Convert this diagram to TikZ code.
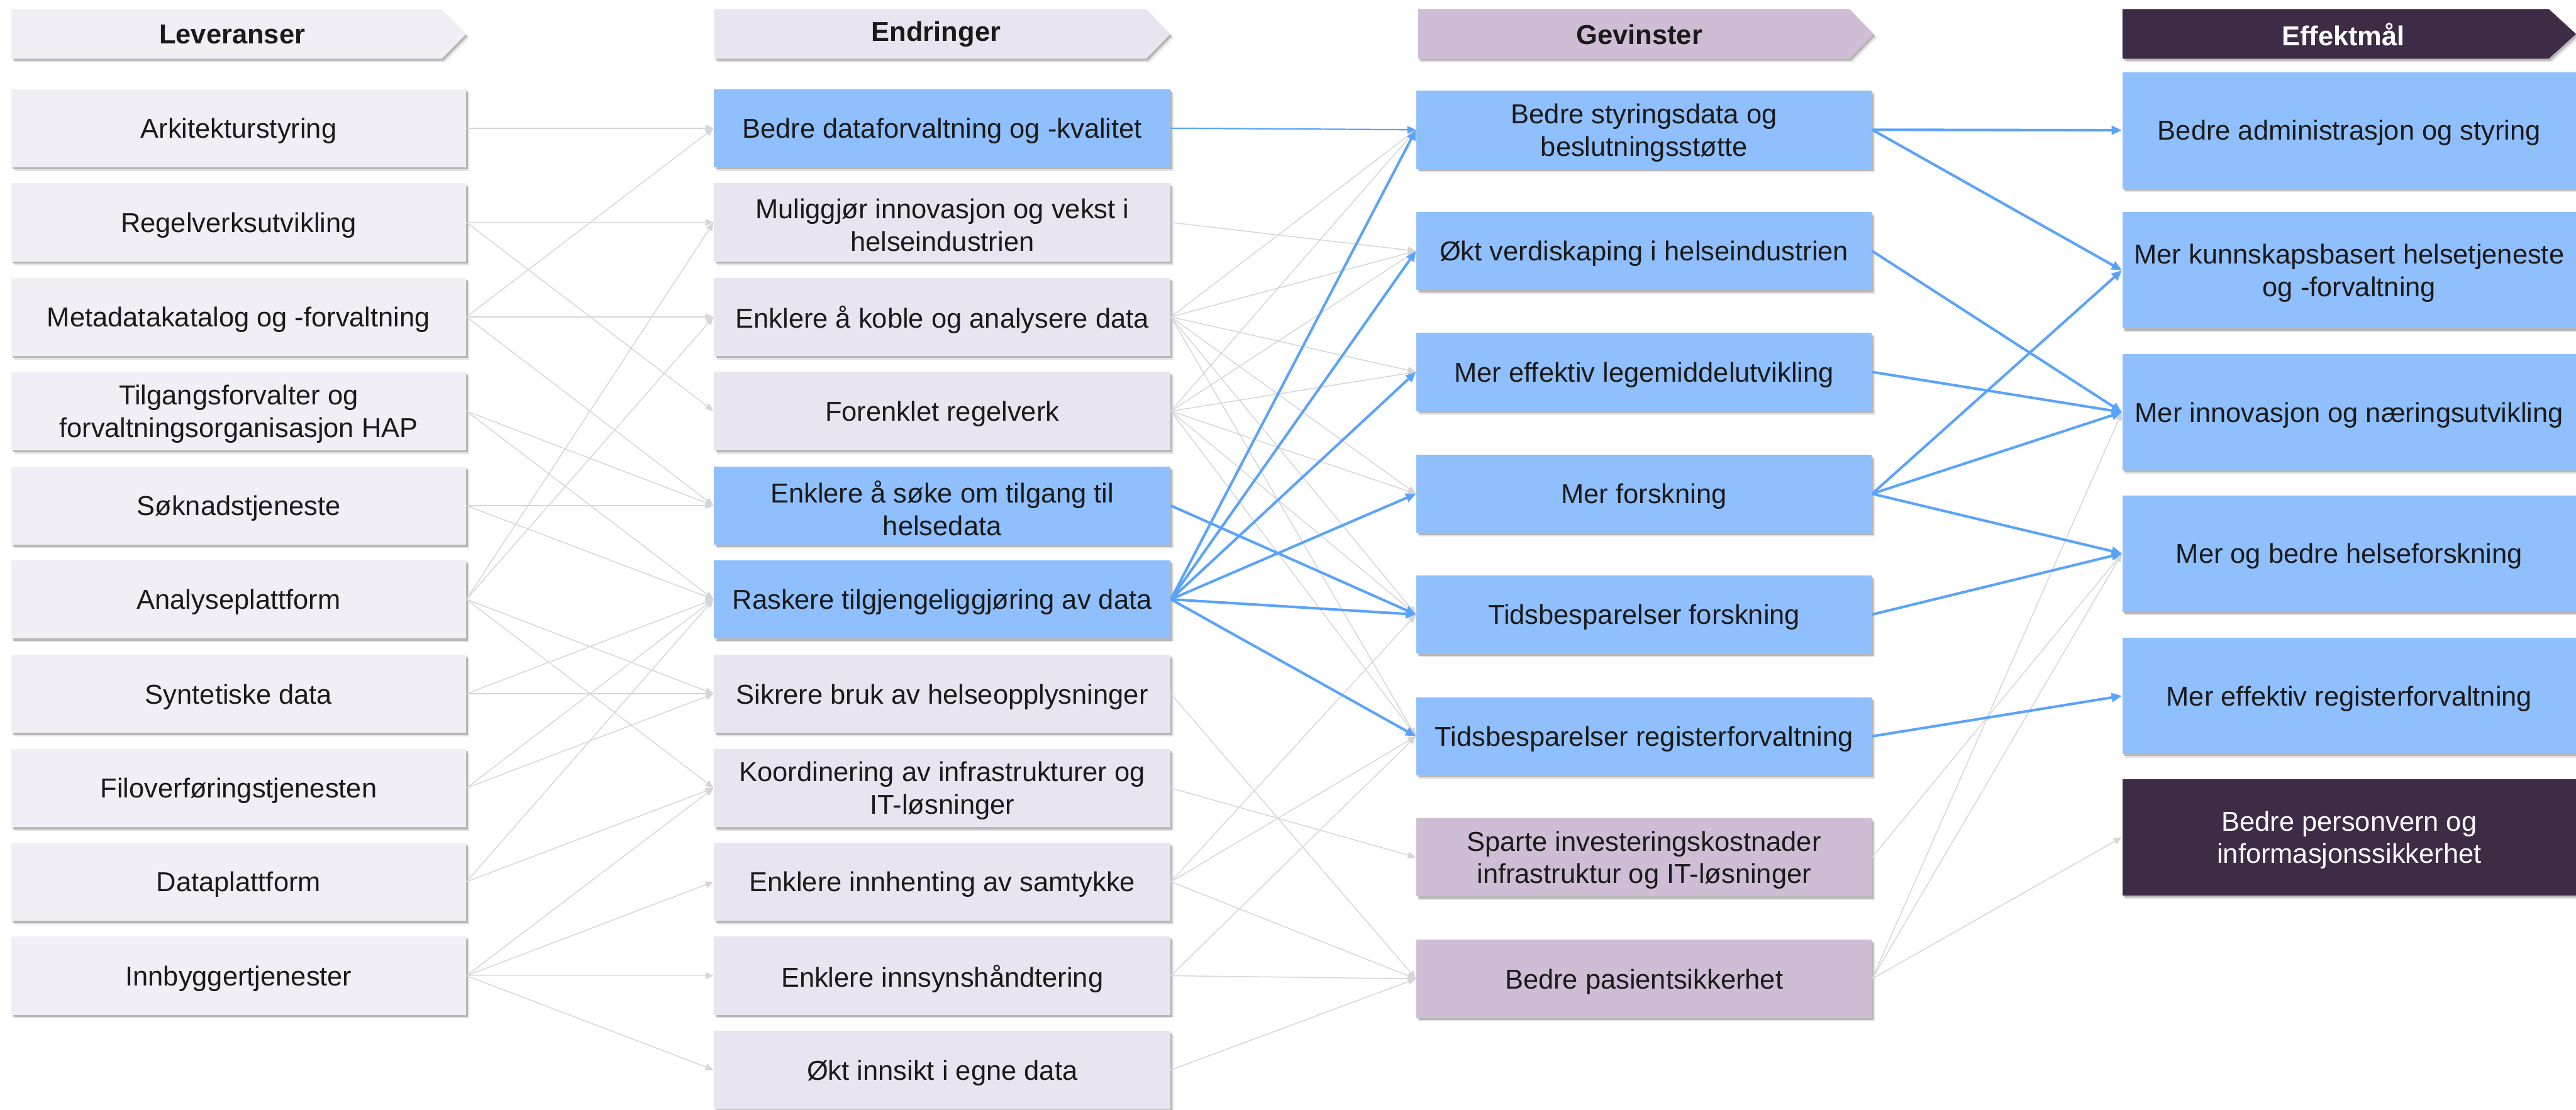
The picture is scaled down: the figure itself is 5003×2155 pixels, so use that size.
\documentclass[tikz,border=0pt]{standalone}
\usepackage{fontspec}
\setmainfont{Liberation Sans}
\usetikzlibrary{arrows.meta,shadows}

\definecolor{levfill}{HTML}{F2EEF5}
\definecolor{endfill}{HTML}{EAE4F0}
\definecolor{hitfill}{HTML}{8FBFFD}
\definecolor{gevfill}{HTML}{CFBDD6}
\definecolor{effill}{HTML}{3E2C47}
\definecolor{txtcol}{HTML}{1A1A1A}
\definecolor{linegrey}{HTML}{D6D6D6}
\definecolor{lineblue}{HTML}{5AA3FC}

% box node (named) with its caption set slightly below the geometric centre
\newcommand\bx[4]{%
  \node[#1] (#2) at (#3) {};
  \node[boxtxt, #1txt] at ([yshift=-1.6pt]#2.center) {#4};}

\begin{document}
\begin{tikzpicture}[x=0.01cm,y=-0.01cm,
  boxshadow/.style={
    drop shadow={shadow xshift=0.03cm,shadow yshift=-0.04cm,opacity=0.35,fill=black!60},
    drop shadow={shadow xshift=0.06cm,shadow yshift=-0.07cm,opacity=0.18,fill=black!60}},
  boxbase/.style={rectangle, inner sep=0pt, boxshadow},
  boxtxt/.style={inner sep=0pt, align=center, text=txtcol,
    font=\fontsize{15.1}{18}\selectfont},
  lbox/.style={boxbase, fill=levfill, minimum width=8.83cm, minimum height=1.52cm},
  ebox/.style={boxbase, fill=endfill, minimum width=8.86cm, minimum height=1.52cm},
  ebhit/.style={ebox, fill=hitfill},
  gbox/.style={boxbase, fill=gevfill, minimum width=8.84cm, minimum height=1.52cm},
  gbhit/.style={gbox, fill=hitfill},
  fbox/.style={boxbase, fill=hitfill, minimum width=8.81cm, minimum height=2.26cm},
  fbdark/.style={fbox, fill=effill},
  lboxtxt/.style={}, eboxtxt/.style={}, ebhittxt/.style={},
  gboxtxt/.style={}, gbhittxt/.style={}, fboxtxt/.style={},
  fbdarktxt/.style={text=white},
  hdrtext/.style={inner sep=0pt, font=\fontsize{15.1}{18}\selectfont\bfseries, text=txtcol},
  greyarrow/.style={draw=linegrey, line width=0.018cm, -{Triangle[length=0.16cm,width=0.13cm]}},
  bluearrow/.style={draw=lineblue, line width=0.05cm, -{Triangle[length=0.2cm,width=0.17cm]}},
  bluethin/.style={draw=lineblue, line width=0.027cm, -{Triangle[length=0.17cm,width=0.14cm]}},
]
\useasboundingbox (0,0) rectangle (5003,2155);
\fill[white] (0,0) rectangle (5003,2155);

% ---- column headers (chevrons) ----
\fill[levfill, boxshadow] (22,17.5) -- (858,17.5) -- (905,66) -- (858,114) -- (22,114) -- cycle;
\fill[endfill, boxshadow] (1387,17.5) -- (2226,17.5) -- (2273,66) -- (2226,114) -- (1387,114) -- cycle;
\fill[gevfill, boxshadow] (2754,17.5) -- (3592,17.5) -- (3639,66) -- (3592,114) -- (2754,114) -- cycle;
\fill[effill, boxshadow] (4122,17.5) -- (4950,17.5) -- (5003,66) -- (4950,114) -- (4122,114) -- cycle;
\node[hdrtext] (hL) at (451,67) {Leveranser};
\node[hdrtext] (hE) at (1818,67) {Endringer};
\node[hdrtext] (hG) at (3184,67) {Gevinster};
\node[hdrtext, text=white] (hF) at (4551,67) {Effektmål};

% ---- Leveranser ----
\bx{lbox}{L1}{463.5,249}{Arkitekturstyring}
\bx{lbox}{L2}{463.5,432}{Regelverksutvikling}
\bx{lbox}{L3}{463.5,615.5}{Metadatakatalog og -forvaltning}
\bx{lbox}{L4}{463.5,798.5}{Tilgangsforvalter og\\forvaltningsorganisasjon HAP}
\bx{lbox}{L5}{463.5,982}{Søknadstjeneste}
\bx{lbox}{L6}{463.5,1164}{Analyseplattform}
\bx{lbox}{L7}{463.5,1347.5}{Syntetiske data}
\bx{lbox}{L8}{463.5,1530.5}{Filoverføringstjenesten}
\bx{lbox}{L9}{463.5,1712.5}{Dataplattform}
\bx{lbox}{L10}{463.5,1895}{Innbyggertjenester}

% ---- Endringer ----
\bx{ebhit}{E1}{1830,249}{Bedre dataforvaltning og -kvalitet}
\bx{ebox}{E2}{1830,432}{Muliggjør innovasjon og vekst i\\helseindustrien}
\bx{ebox}{E3}{1830,615.5}{Enklere å koble og analysere data}
\bx{ebox}{E4}{1830,798.5}{Forenklet regelverk}
\bx{ebhit}{E5}{1830,982}{Enklere å søke om tilgang til\\helsedata}
\bx{ebhit}{E6}{1830,1164}{Raskere tilgjengeliggjøring av data}
\bx{ebox}{E7}{1830,1347.5}{Sikrere bruk av helseopplysninger}
\bx{ebox}{E8}{1830,1530.5}{Koordinering av infrastrukturer og\\IT-løsninger}
\bx{ebox}{E9}{1830,1712.5}{Enklere innhenting av samtykke}
\bx{ebox}{E10}{1830,1895}{Enklere innsynshåndtering}
\bx{ebox}{E11}{1830,2078}{Økt innsikt i egne data}

% ---- Gevinster ----
\bx{gbhit}{G1}{3193,252}{Bedre styringsdata og\\beslutningsstøtte}
\bx{gbhit}{G2}{3193,487.5}{Økt verdiskaping i helseindustrien}
\bx{gbhit}{G3}{3193,722.5}{Mer effektiv legemiddelutvikling}
\bx{gbhit}{G4}{3193,959}{Mer forskning}
\bx{gbhit}{G5}{3193,1193.5}{Tidsbesparelser forskning}
\bx{gbhit}{G6}{3193,1430}{Tidsbesparelser registerforvaltning}
\bx{gbox}{G7}{3193,1665}{Sparte investeringskostnader\\infrastruktur og IT-løsninger}
\bx{gbox}{G8}{3193,1901}{Bedre pasientsikkerhet}

% ---- Effektmål ----
\bx{fbox}{F1}{4562.5,253}{Bedre administrasjon og styring}
\bx{fbox}{F2}{4562.5,525}{Mer kunnskapsbasert helsetjeneste\\og -forvaltning}
\bx{fbox}{F3}{4562.5,800.5}{Mer innovasjon og næringsutvikling}
\bx{fbox}{F4}{4562.5,1075}{Mer og bedre helseforskning}
\bx{fbox}{F5}{4562.5,1351.5}{Mer effektiv registerforvaltning}
\bx{fbdark}{F6}{4562.5,1626}{Bedre personvern og\\informasjonssikkerhet}

% ---- Leveranser -> Endringer ----
\foreach \a/\b in {1/1,2/2,2/4,3/1,3/3,3/5,4/5,4/6,5/5,5/6,6/2,6/3,6/7,6/8,
                   7/6,7/7,8/6,8/7,9/6,9/8,10/8,10/9,10/10,10/11}
  \draw[greyarrow] (L\a.east) -- (E\b.west);

% ---- Endringer -> Gevinster ----
\foreach \a/\b in {2/2,3/1,3/2,3/3,3/4,3/5,3/6,4/1,4/2,4/3,4/4,4/5,4/6,
                   7/8,8/7,9/5,9/6,9/8,10/6,10/8,11/8}
  \draw[greyarrow] (E\a.east) -- (G\b.west);

% ---- Gevinster -> Effektmål (grey) ----
\foreach \a/\b in {7/4,8/3,8/4,8/6}
  \draw[greyarrow] (G\a.east) -- (F\b.west);

% ---- highlighted chains ----
\draw[bluethin] (E1.east) -- (G1.west);
\foreach \a/\b in {5/5,6/1,6/2,6/3,6/4,6/5,6/6}
  \draw[bluearrow] (E\a.east) -- (G\b.west);
\foreach \a/\b in {1/1,1/2,2/3,3/3,4/2,4/3,4/4,5/4,6/5}
  \draw[bluearrow] (G\a.east) -- (F\b.west);

\end{tikzpicture}
\end{document}
